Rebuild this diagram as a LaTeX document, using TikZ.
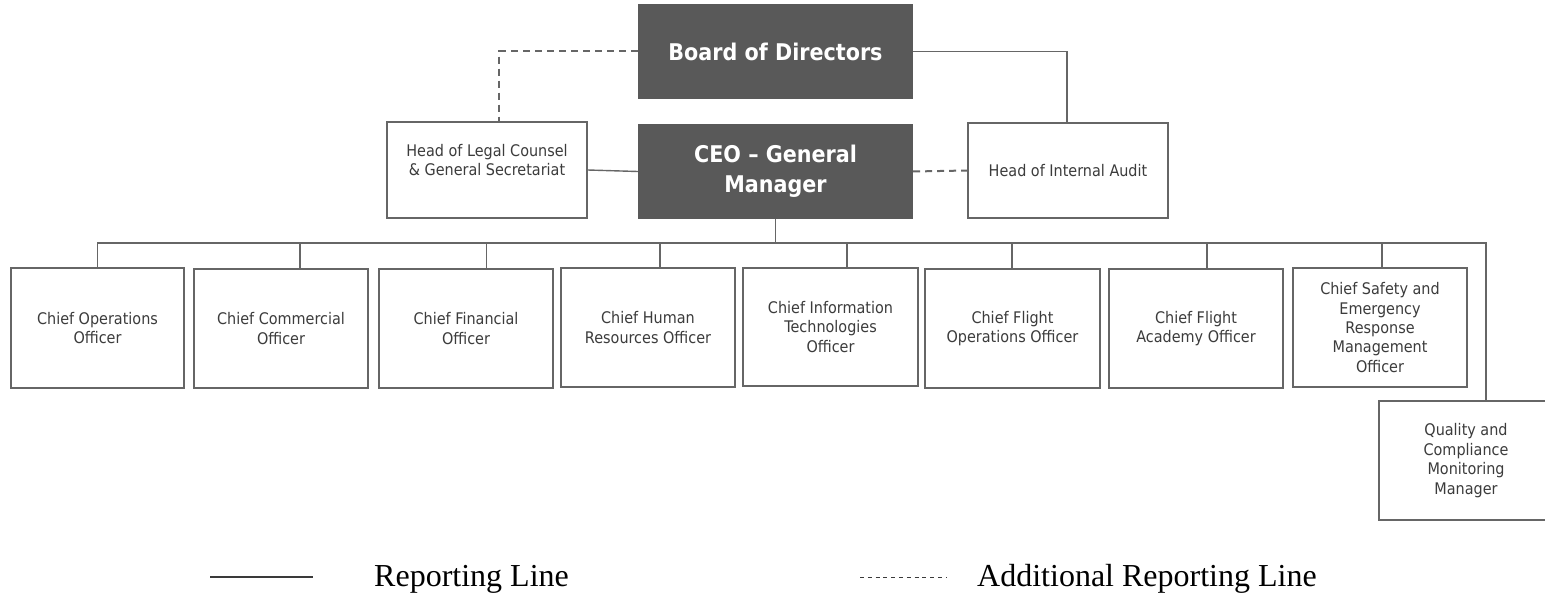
\documentclass[tikz,border=0pt]{standalone}
\usepackage{fontspec}
\setmainfont{Liberation Serif}
\newfontfamily\boxfont[FakeStretch=0.9,Ligatures=TeX]{DejaVu Sans}
\usetikzlibrary{calc}
\definecolor{darkbox}{HTML}{595959}
\definecolor{edge}{HTML}{666666}
\definecolor{txt}{HTML}{3C3C3C}
\definecolor{legc}{HTML}{3A3A3A}
\tikzset{
  box/.style={draw=edge, line width=1.4pt, fill=white, text=txt,
    font=\boxfont\fontsize{16}{19.4}\selectfont, align=center, inner sep=0pt},
  boxtext/.style={text=txt, font=\boxfont\fontsize{16}{19.4}\selectfont, align=center, inner sep=0pt},
  dark/.style={fill=darkbox, draw=none, text=white,
    font=\boxfont\bfseries\fontsize{23}{30}\selectfont, align=center, inner sep=0pt},
  conn/.style={draw=edge, line width=1.4pt},
  dconn/.style={draw=edge, line width=2pt, dash pattern=on 7pt off 5pt},
  legtext/.style={font=\fontsize{32}{38}\selectfont, text=black, inner sep=0pt, anchor=base west},
  legsolid/.style={draw=legc, line width=1.6pt},
  legdash/.style={draw=legc, line width=1pt, dash pattern=on 4pt off 3.8pt},
}
\begin{document}
\begin{tikzpicture}[x=1pt,y=-1pt]
\useasboundingbox (0,0) rectangle (1545,596);
% top level
\node[dark, minimum width=275pt, minimum height=95pt] (board) at (775.5,51.5) {Board of Directors};
\node[dark, minimum width=275pt, minimum height=95pt] (ceo) at (775.5,171.5) {CEO – General\\Manager};
\node[box, minimum width=200pt, minimum height=96pt] (legal) at (487,170) {};
\node[boxtext] (legaltxt) at (487,160) {Head of Legal Counsel\\\& General Secretariat};
\node[box, minimum width=200pt, minimum height=95pt] (audit) at (1068,170.5) {Head of Internal Audit};
% chiefs
\node[box, minimum width=173pt, minimum height=120pt] (c1) at (97.5,328) {Chief Operations\\Officer};
\node[box, minimum width=174pt, minimum height=119pt] (c2) at (281,328.5) {Chief Commercial\\Officer};
\node[box, minimum width=174pt, minimum height=119pt] (c3) at (466,328.5) {Chief Financial\\Officer};
\node[box, minimum width=174pt, minimum height=119pt] (c4) at (648,327.5) {Chief Human\\Resources Officer};
\node[box, minimum width=175pt, minimum height=118pt] (c5) at (830.5,327) {Chief Information\\Technologies\\Officer};
\node[box, minimum width=175pt, minimum height=119pt] (c6) at (1012.5,328.5) {Chief Flight\\Operations Officer};
\node[box, minimum width=174pt, minimum height=119pt] (c7) at (1196,328.5) {Chief Flight\\Academy Officer};
\node[box, minimum width=174pt, minimum height=119pt] (c8) at (1380,327.5) {Chief Safety and\\Emergency\\Response\\Management\\Officer};
\node[box, minimum width=174pt, minimum height=119pt] (q) at (1466,460.5) {Quality and\\Compliance\\Monitoring\\Manager};
% connectors top
\draw[dconn] (board.west) -| ($(legal.north)+(12,0)$);
\draw[conn] (board.east) -| ($(audit.north)+(-1,0)$);
\draw[conn] (legal.east) -- (ceo.west);
\draw[dconn] (ceo.east) -- (audit.west);
% bus
\coordinate (bus) at (775.5,243);
\draw[conn] (ceo.south) -- (bus);
\draw[conn] (c1.north) |- (bus);
\draw[conn] ($(c2.north)+(19,0)$) |- (bus);
\draw[conn] ($(c3.north)+(20.7,0)$) |- (bus);
\draw[conn] ($(c4.north)+(12,0)$) |- (bus);
\draw[conn] ($(c5.north)+(16.5,0)$) |- (bus);
\draw[conn] ($(c6.north)+(-0.5,0)$) |- (bus);
\draw[conn] ($(c7.north)+(11,0)$) |- (bus);
\draw[conn] ($(c8.north)+(2,0)$) |- (bus);
\draw[conn] ($(q.north)+(20,0)$) |- (bus);
% legend
\coordinate (s1) at (210,577);
\coordinate (s2) at (313,577);
\draw[legsolid] (s1) -- (s2);
\node[legtext] (lt1) at (374,586) {Reporting Line};
\coordinate (d1) at (860,577);
\coordinate (d2) at (946,577);
\draw[legdash] (d1) -- (d2);
\node[legtext] (lt2) at (977,586) {Additional Reporting Line};
\end{tikzpicture}
\end{document}
